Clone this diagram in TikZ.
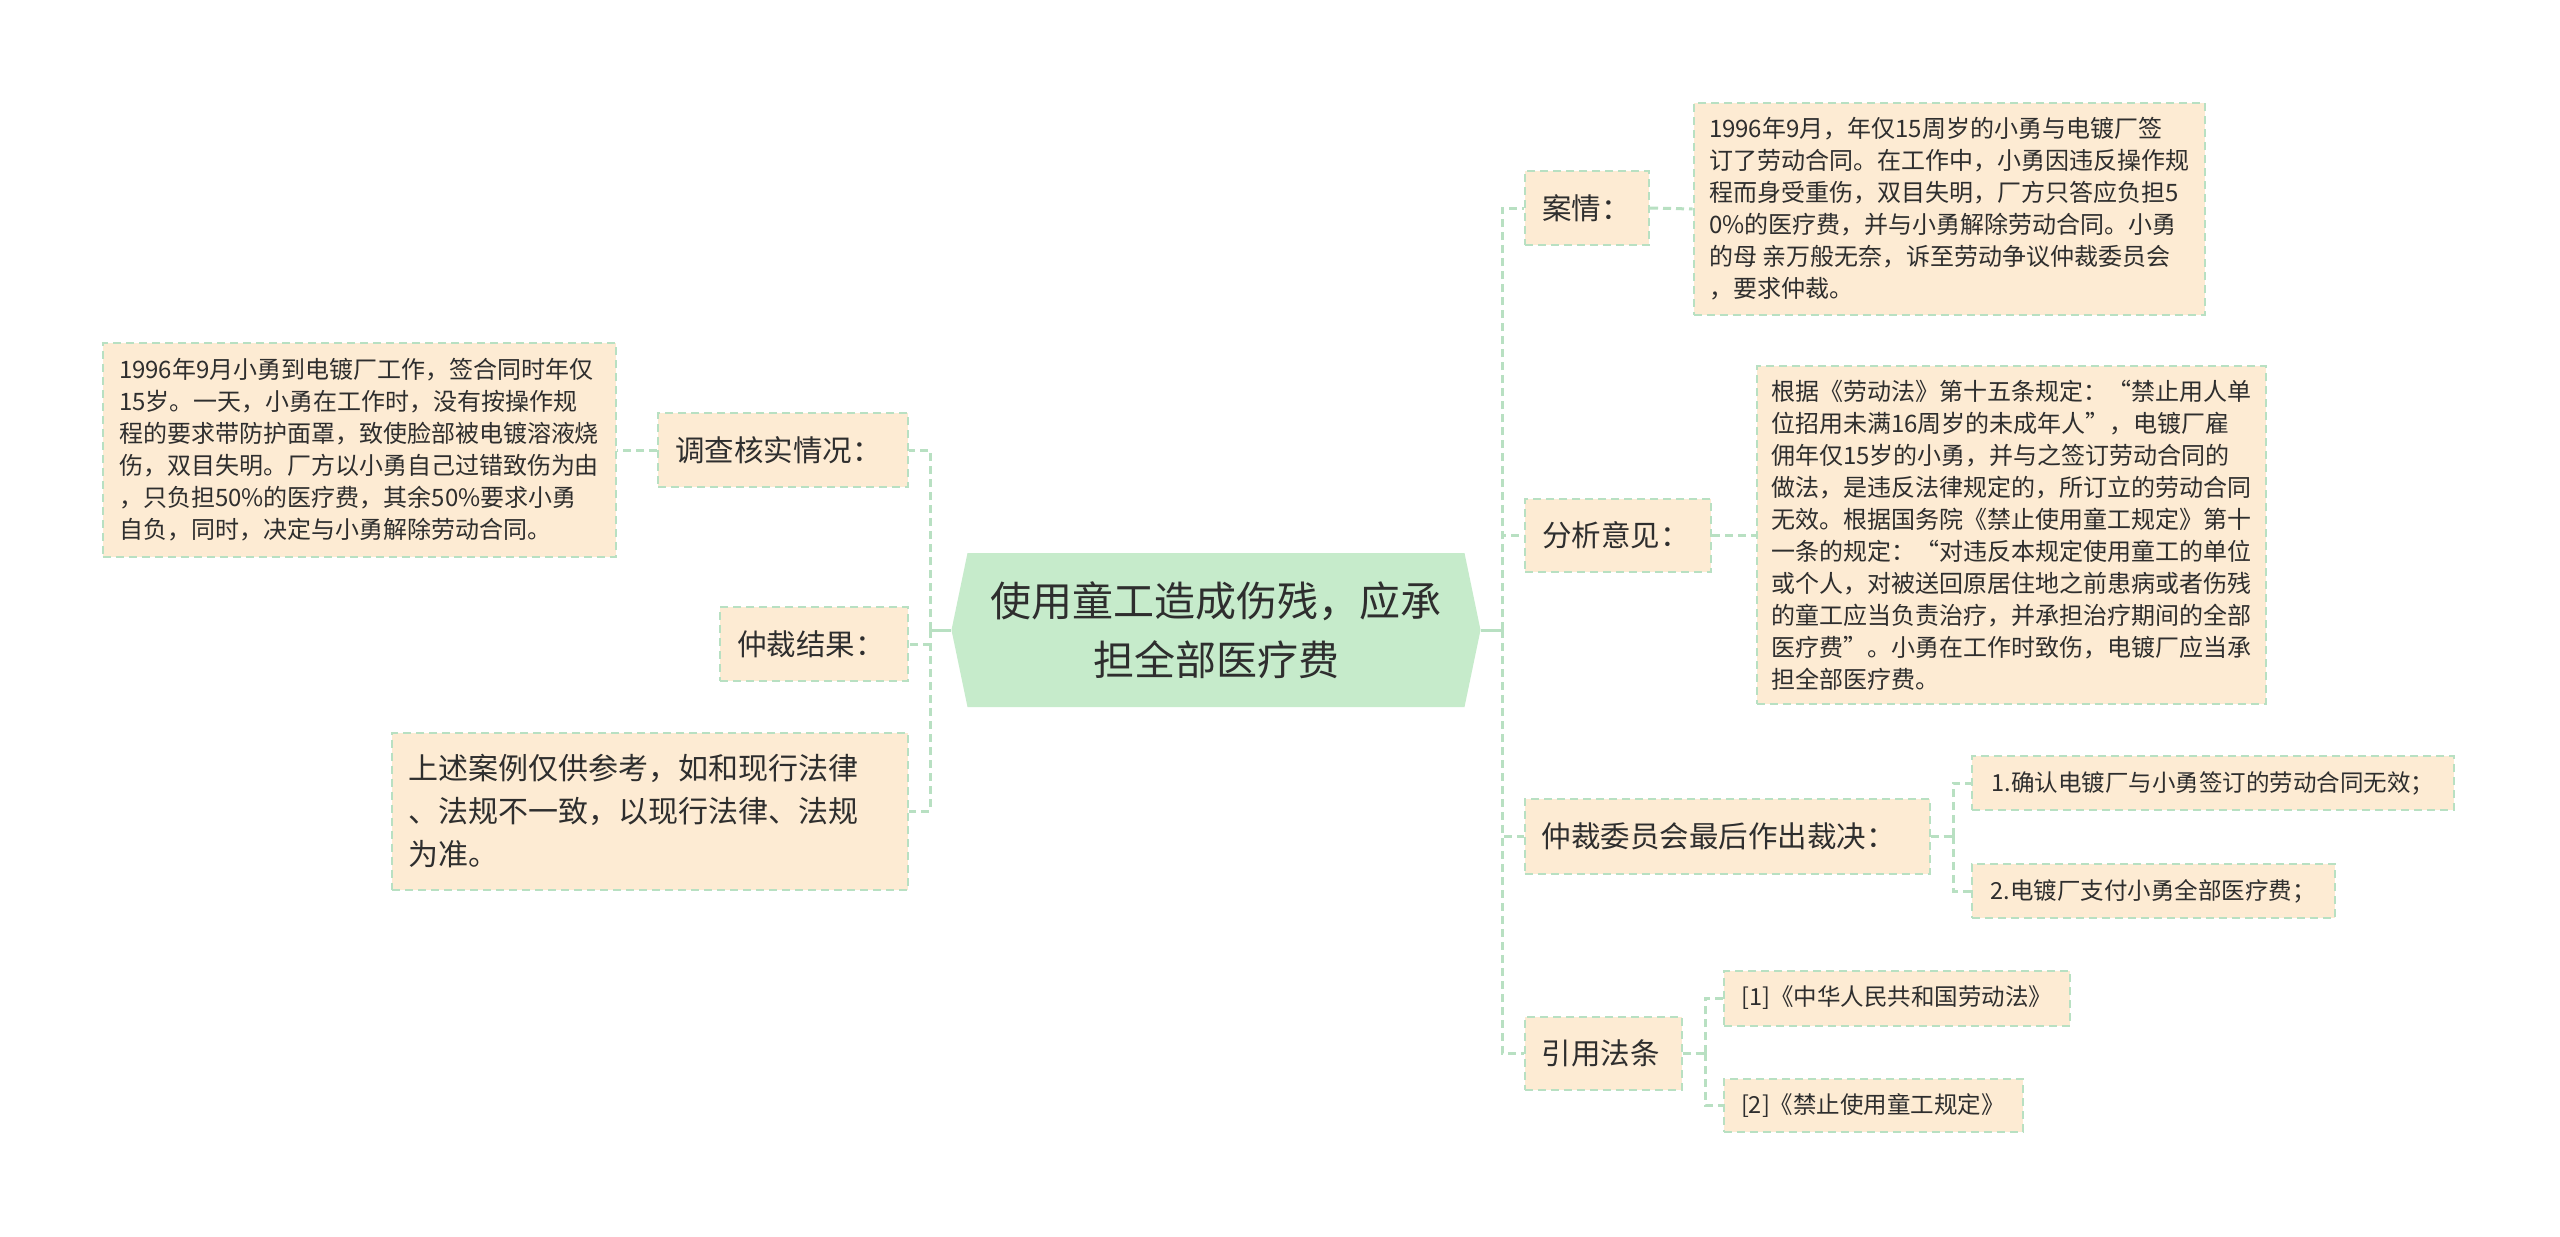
\documentclass[tikz,border=0pt]{standalone}
\usepackage{fontspec}
\setmainfont{Noto Sans CJK SC}
\usetikzlibrary{shapes.symbols}
\definecolor{boxfill}{HTML}{FDEBD3}
\definecolor{boxline}{HTML}{B8E0C2}
\definecolor{rootfill}{HTML}{C6EBCB}
\definecolor{linkgreen}{HTML}{B8E0C2}
\definecolor{ink}{HTML}{2E2E2E}
\tikzset{
  box/.style={draw=boxline, fill=boxfill, line width=2pt, dash pattern=on 8pt off 5pt,
    text=ink, inner sep=0pt, align=left},
  lbl/.style={box, font=\fontsize{29.5pt}{36pt}\selectfont},
  txt/.style={box, font=\fontsize{24pt}{32pt}\selectfont},
  itm/.style={box, font=\fontsize{23.5pt}{30pt}\selectfont},
  link/.style={draw=linkgreen, line width=3pt, dash pattern=on 8pt off 5pt},
  stem/.style={draw=linkgreen, line width=3pt}
}
\begin{document}
\begin{tikzpicture}[x=1pt, y=-1pt]
\fill[white] (0,0) rectangle (2560,1237);
\useasboundingbox (0,0) rectangle (2560,1237);
% root
\node[signal, signal to=west and east, signal pointer angle=156.5, fill=rootfill, text=ink,
  minimum width=529, minimum height=154, inner sep=0pt, align=center,
  font=\fontsize{41pt}{59pt}\selectfont] (root) at (1216,630)
  {使用童工造成伤残，应承\\担全部医疗费};
\coordinate (rtrunk) at (1502,630);
\coordinate (ltrunk) at (930,630);
% right side
\node[lbl, minimum width=124, minimum height=74, text width=90] (case) at (1587,208) {案情：};
\node[txt, minimum width=511, minimum height=212] (casetxt) at (1949,209)
  {1996年9月，年仅15周岁的小勇与电镀厂签\\订了劳动合同。在工作中，小勇因违反操作规\\程而身受重伤，双目失明，厂方只答应负担5\\0\%的医疗费，并与小勇解除劳动合同。小勇\\的母 亲万般无奈，诉至劳动争议仲裁委员会\\，要求仲裁。};
\node[lbl, minimum width=186, minimum height=73, text width=152] (anal) at (1618,535) {分析意见：};
\node[txt, minimum width=509, minimum height=338] (analtxt) at (2011,535)
  {根据《劳动法》第十五条规定：“禁止用人单\\位招用未满16周岁的未成年人”，电镀厂雇\\佣年仅15岁的小勇，并与之签订劳动合同的\\做法，是违反法律规定的，所订立的劳动合同\\无效。根据国务院《禁止使用童工规定》第十\\一条的规定：“对违反本规定使用童工的单位\\或个人，对被送回原居住地之前患病或者伤残\\的童工应当负责治疗，并承担治疗期间的全部\\医疗费”。小勇在工作时致伤，电镀厂应当承\\担全部医疗费。};
\node[lbl, minimum width=405, minimum height=75, text width=371] (arb) at (1727,836) {仲裁委员会最后作出裁决：};
\coordinate (atrunk) at (1953,836);
\node[itm, minimum width=482, minimum height=54] (arb1) at (2213,783) {1.确认电镀厂与小勇签订的劳动合同无效；};
\node[itm, minimum width=363, minimum height=54] (arb2) at (2153,891) {2.电镀厂支付小勇全部医疗费；};
\node[lbl, minimum width=157, minimum height=73, text width=123] (law) at (1603,1053) {引用法条};
\coordinate (lawtrunk) at (1705,1053);
\node[itm, minimum width=346, minimum height=55] (law1) at (1897,998) {[1]《中华人民共和国劳动法》};
\node[itm, minimum width=299, minimum height=53] (law2) at (1873,1105) {[2]《禁止使用童工规定》};
% left side
\node[lbl, minimum width=250, minimum height=74, text width=216] (inv) at (783,450) {调查核实情况：};
\node[txt, minimum width=513, minimum height=214] (invtxt) at (359,450)
  {1996年9月小勇到电镀厂工作，签合同时年仅\\15岁。一天，小勇在工作时，没有按操作规\\程的要求带防护面罩，致使脸部被电镀溶液烧\\伤，双目失明。厂方以小勇自己过错致伤为由\\，只负担50\%的医疗费，其余50\%要求小勇\\自负，同时，决定与小勇解除劳动合同。};
\node[lbl, minimum width=188, minimum height=74, text width=154] (res) at (814,644) {仲裁结果：};
\node[box, font=\fontsize{30pt}{43pt}\selectfont, minimum width=516, minimum height=157, text width=484] (note) at (650,811)
  {上述案例仅供参考，如和现行法律\\、法规不一致，以现行法律、法规\\为准。};
% connectors
\draw[stem] (root.east) -- (rtrunk);
\draw[stem] (root.west) -- (ltrunk);
\draw[link] (rtrunk) |- (case.west);
\draw[link] (rtrunk) |- (anal.west);
\draw[link] (rtrunk) |- (arb.west);
\draw[link] (rtrunk) |- (law.west);
\draw[link] (case.east) -- (casetxt.west);
\draw[link] (anal.east) -- (analtxt.west);
\draw[link] (arb.east) -- (atrunk);
\draw[link] (atrunk) |- (arb1.west);
\draw[link] (atrunk) |- (arb2.west);
\draw[link] (law.east) -- (lawtrunk);
\draw[link] (lawtrunk) |- (law1.west);
\draw[link] (lawtrunk) |- (law2.west);
\draw[link] (ltrunk) |- (inv.east);
\draw[link] (ltrunk) |- (res.east);
\draw[link] (ltrunk) |- (note.east);
\draw[link] (inv.west) -- (invtxt.east);
\end{tikzpicture}
\end{document}
